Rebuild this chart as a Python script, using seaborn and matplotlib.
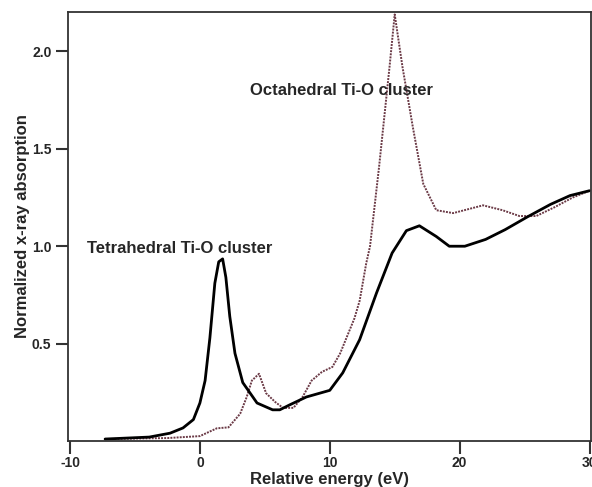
import matplotlib
matplotlib.use("Agg")
import matplotlib.pyplot as plt
import seaborn as sns
import pandas as pd

# Tetrahedral Ti-O cluster (solid black)
tet_energy = [-7.3, -3.9, -2.3, -1.3, -0.5, 0.0, 0.4, 0.77, 1.15, 1.45, 1.75, 2.0, 2.3, 2.7, 3.3,
              4.4, 5.6, 6.15, 6.9, 8.2, 10.0, 11.0, 12.3, 13.6, 14.8, 15.9, 16.9, 18.2,
              19.2, 20.4, 22.0, 23.5, 25.2, 27.0, 28.5, 30.0]
tet_abs = [0.01, 0.02, 0.04, 0.067, 0.11, 0.195, 0.31, 0.53, 0.81, 0.92, 0.935, 0.84, 0.64, 0.45, 0.30,
           0.195, 0.16, 0.16, 0.185, 0.226, 0.26, 0.35, 0.52, 0.76, 0.965, 1.08, 1.105, 1.05,
           1.0, 1.0, 1.035, 1.085, 1.15, 1.215, 1.26, 1.285]

# Octahedral Ti-O cluster (dotted)
oct_energy = [-7.3, -2.5, 0.0, 1.3, 2.2, 3.1, 3.6, 4.0, 4.55, 5.1, 5.8, 6.4, 7.2, 7.9, 8.6,
              9.4, 10.2, 10.8, 11.9, 12.3, 12.8, 13.1, 13.8, 14.6, 15.0, 15.6, 16.4, 17.2,
              18.2, 19.5, 21.8, 23.3, 24.6, 25.9, 27.3, 28.7, 30.0]
oct_abs = [0.01, 0.015, 0.025, 0.065, 0.07, 0.14, 0.225, 0.31, 0.345, 0.245, 0.2, 0.17, 0.17,
           0.225, 0.31, 0.355, 0.38, 0.45, 0.63, 0.72, 0.91, 1.0, 1.41, 1.92, 2.19, 1.92,
           1.61, 1.32, 1.185, 1.17, 1.21, 1.185, 1.155, 1.155, 1.2, 1.25, 1.285]

x_ticks = [-10, 0, 10, 20, 30]
y_ticks = [0.5, 1.0, 1.5, 2.0]

df_tet = pd.DataFrame({"energy": tet_energy, "absorption": tet_abs})
df_oct = pd.DataFrame({"energy": oct_energy, "absorption": oct_abs})

sns.set_style("ticks")
plt.rcParams["font.family"] = ["Liberation Sans", "DejaVu Sans"]
plt.rcParams["font.weight"] = "bold"

fig = plt.figure(figsize=(5.92, 4.87), dpi=100)
ax = fig.add_axes([0.115, 0.0945, 0.883, 0.881])

sns.lineplot(data=df_oct, x="energy", y="absorption", ax=ax, color="#6b3a46",
             linestyle=(0, (1, 0.6)), linewidth=1.4, sort=False)
sns.lineplot(data=df_tet, x="energy", y="absorption", ax=ax, color="black",
             linewidth=2.0, sort=False)

ax.text(-8.7, 0.966, "Tetrahedral Ti-O cluster", fontsize=12, fontweight="bold", va="baseline")
ax.text(3.85, 1.777, "Octahedral Ti-O cluster", fontsize=12, fontweight="bold", va="baseline")

ax.set_xlim(-10.15, 30.1)
ax.set_ylim(0, 2.203)
ax.set_xticks(x_ticks)
ax.set_yticks(y_ticks)
ax.set_xticklabels([str(t) for t in x_ticks])
ax.set_yticklabels([f"{t:.1f}" for t in y_ticks])
ax.set_xlabel("Relative energy (eV)", fontsize=12, fontweight="bold", va="center")
ax.set_ylabel("Normalized x-ray absorption", fontsize=12, fontweight="bold", va="center")
ax.xaxis.set_label_coords(0.5, -0.09)
ax.yaxis.set_label_coords(-0.088, 0.5)

for s in ax.spines.values():
    s.set_linewidth(1.3)
    s.set_color("#333333")
ax.tick_params(direction="out", length=9, width=1.5, labelsize=10, color="#333333")
ax.tick_params(axis="x", pad=2)
ax.tick_params(axis="y", pad=3)

fig.savefig("out.png", dpi=100)
